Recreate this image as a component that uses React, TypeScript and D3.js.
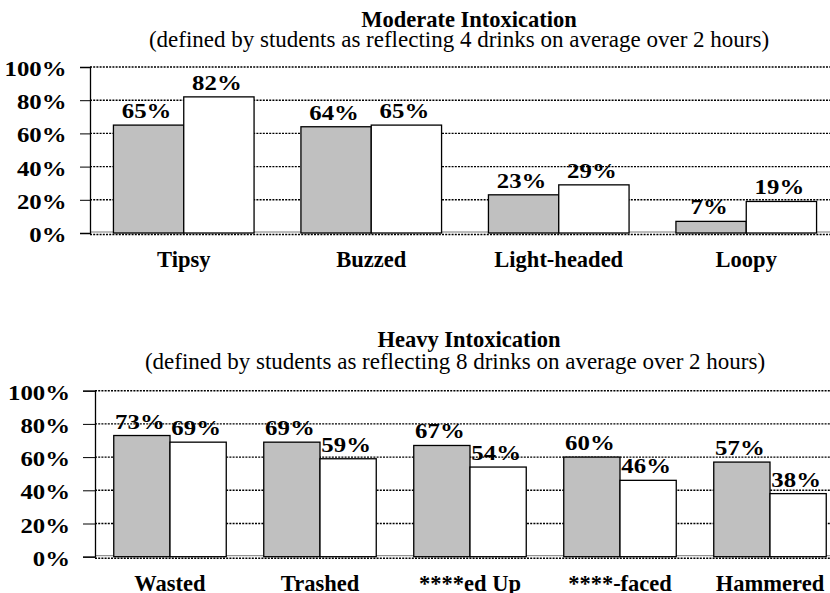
import React, { useEffect, useRef } from "react";
import * as d3 from "d3";

// values (percent of students)
const moderateCategories = ["Tipsy", "Buzzed", "Light-headed", "Loopy"];
const moderateFirst = [65, 64, 23, 7];
const moderateSecond = [82, 65, 29, 19];

const heavyCategories = ["Wasted", "Trashed", "****ed Up", "****-faced", "Hammered"];
const heavyFirst = [73, 69, 67, 60, 57];
const heavySecond = [69, 59, 54, 46, 38];

const tickValues = [0, 20, 40, 60, 80, 100];

const seriesKeys = ["first", "second"];
const seriesFill = ["#c0c0c0", "#ffffff"];

const FONT = "'Liberation Serif', 'Times New Roman', serif";
// the numbers in the original are drawn wider than they are tall
const NUM_STRETCH = 1.24;

function drawPanel(svg, cfg) {
  const g = svg.append("g");

  const data = cfg.categories.map((c, i) => ({
    key: c,
    first: cfg.first[i],
    second: cfg.second[i],
  }));

  const x = d3
    .scaleBand()
    .domain(cfg.categories)
    .range([cfg.left, cfg.right])
    .paddingInner(0.25)
    .paddingOuter(0.125);

  const xs = d3.scaleBand().domain(seriesKeys).range([0, x.bandwidth()]);

  const y = d3.scaleLinear().domain([0, 100]).range([cfg.bottom, cfg.top]);

  // titles
  g.append("text")
    .attr("x", cfg.titleX)
    .attr("y", cfg.titleY)
    .attr("text-anchor", "middle")
    .style("font-family", FONT)
    .style("font-weight", "bold")
    .style("font-size", "22.5px")
    .text(cfg.title);

  g.append("text")
    .attr("x", cfg.subX)
    .attr("y", cfg.subY)
    .attr("text-anchor", "middle")
    .style("font-family", FONT)
    .style("font-size", "23px")
    .text(cfg.subtitle);

  // dotted gridlines
  g.append("g")
    .selectAll("line")
    .data(tickValues)
    .join("line")
    .attr("x1", cfg.left)
    .attr("x2", 830)
    .attr("y1", (d) => (d === 0 ? y(d) + 1.5 : y(d)))
    .attr("y2", (d) => (d === 0 ? y(d) + 1.5 : y(d)))
    .attr("stroke", "#000")
    .attr("stroke-width", 1.4)
    .attr("stroke-dasharray", "2,1.2");

  // floor line
  g.append("line")
    .attr("x1", cfg.left)
    .attr("x2", 830)
    .attr("y1", y(0) - 1)
    .attr("y2", y(0) - 1)
    .attr("stroke", "#555")
    .attr("stroke-width", 0.8);

  // bars
  const groups = g
    .append("g")
    .selectAll("g")
    .data(data)
    .join("g")
    .attr("transform", (d) => `translate(${x(d.key)},0)`);

  groups
    .selectAll("rect")
    .data((d) => seriesKeys.map((k) => ({ k, v: d[k] })))
    .join("rect")
    .attr("x", (d) => xs(d.k))
    .attr("y", (d) => y(d.v))
    .attr("width", xs.bandwidth())
    .attr("height", (d) => y(0) - y(d.v))
    .attr("fill", (d, i) => seriesFill[i])
    .attr("stroke", "#000")
    .attr("stroke-width", 1.3);

  groups
    .selectAll("text")
    .data((d) => seriesKeys.map((k) => ({ k, v: d[k] })))
    .join("text")
    .attr(
      "transform",
      (d) =>
        `translate(${xs(d.k) + xs.bandwidth() / 2 - 2},${y(d.v) - 7}) scale(${NUM_STRETCH},1)`
    )
    .attr("text-anchor", "middle")
    .style("font-family", FONT)
    .style("font-weight", "bold")
    .style("font-size", "20px")
    .text((d) => d.v + "%");

  // y axis
  const axis = g
    .append("g")
    .attr("transform", `translate(${cfg.left},0)`)
    .call(
      d3
        .axisLeft(y)
        .tickValues(tickValues)
        .tickSize(cfg.tickLen)
        .tickFormat((d) => d + "%")
    );
  axis.select(".domain").attr("stroke", "#000").attr("stroke-width", 1.3);
  axis.selectAll(".tick line").attr("stroke", "#000").attr("stroke-width", 1);
  axis
    .selectAll(".tick text")
    .attr("x", null)
    .attr("dy", null)
    .attr("transform", `translate(${cfg.labelRight - cfg.left},8.5) scale(${NUM_STRETCH},1)`)
    .attr("fill", "#000")
    .attr("text-anchor", "end")
    .style("font-family", FONT)
    .style("font-weight", "bold")
    .style("font-size", "20px");

  // category labels
  g.append("g")
    .selectAll("text")
    .data(cfg.categories)
    .join("text")
    .attr("x", (d) => x(d) + x.bandwidth() / 2)
    .attr("y", cfg.catY)
    .attr("text-anchor", "middle")
    .style("font-family", FONT)
    .style("font-weight", "bold")
    .style("font-size", "22.5px")
    .text((d) => d);
}

export default function App() {
  const ref = useRef(null);

  useEffect(() => {
    const svg = d3.select(ref.current);
    svg.selectAll("*").remove();

    drawPanel(svg, {
      categories: moderateCategories,
      first: moderateFirst,
      second: moderateSecond,
      title: "Moderate Intoxication",
      subtitle: "(defined by students as reflecting 4 drinks on average over 2 hours)",
      titleX: 469,
      titleY: 26.5,
      subX: 459,
      subY: 46.5,
      left: 90,
      right: 840,
      top: 67,
      bottom: 233,
      tickLen: 10,
      labelRight: 66.5,
      catY: 267,
    });

    drawPanel(svg, {
      categories: heavyCategories,
      first: heavyFirst,
      second: heavySecond,
      title: "Heavy Intoxication",
      subtitle: "(defined by students as reflecting 8 drinks on average over 2 hours)",
      titleX: 469,
      titleY: 346.5,
      subX: 455,
      subY: 369,
      left: 95,
      right: 845,
      top: 390.7,
      bottom: 556.7,
      tickLen: 12,
      labelRight: 70,
      catY: 591,
    });
  }, []);

  return (
    <svg
      ref={ref}
      width={830}
      height={593}
      style={{ position: "absolute", left: 0, top: 0, background: "#fff" }}
    ></svg>
  );
}
